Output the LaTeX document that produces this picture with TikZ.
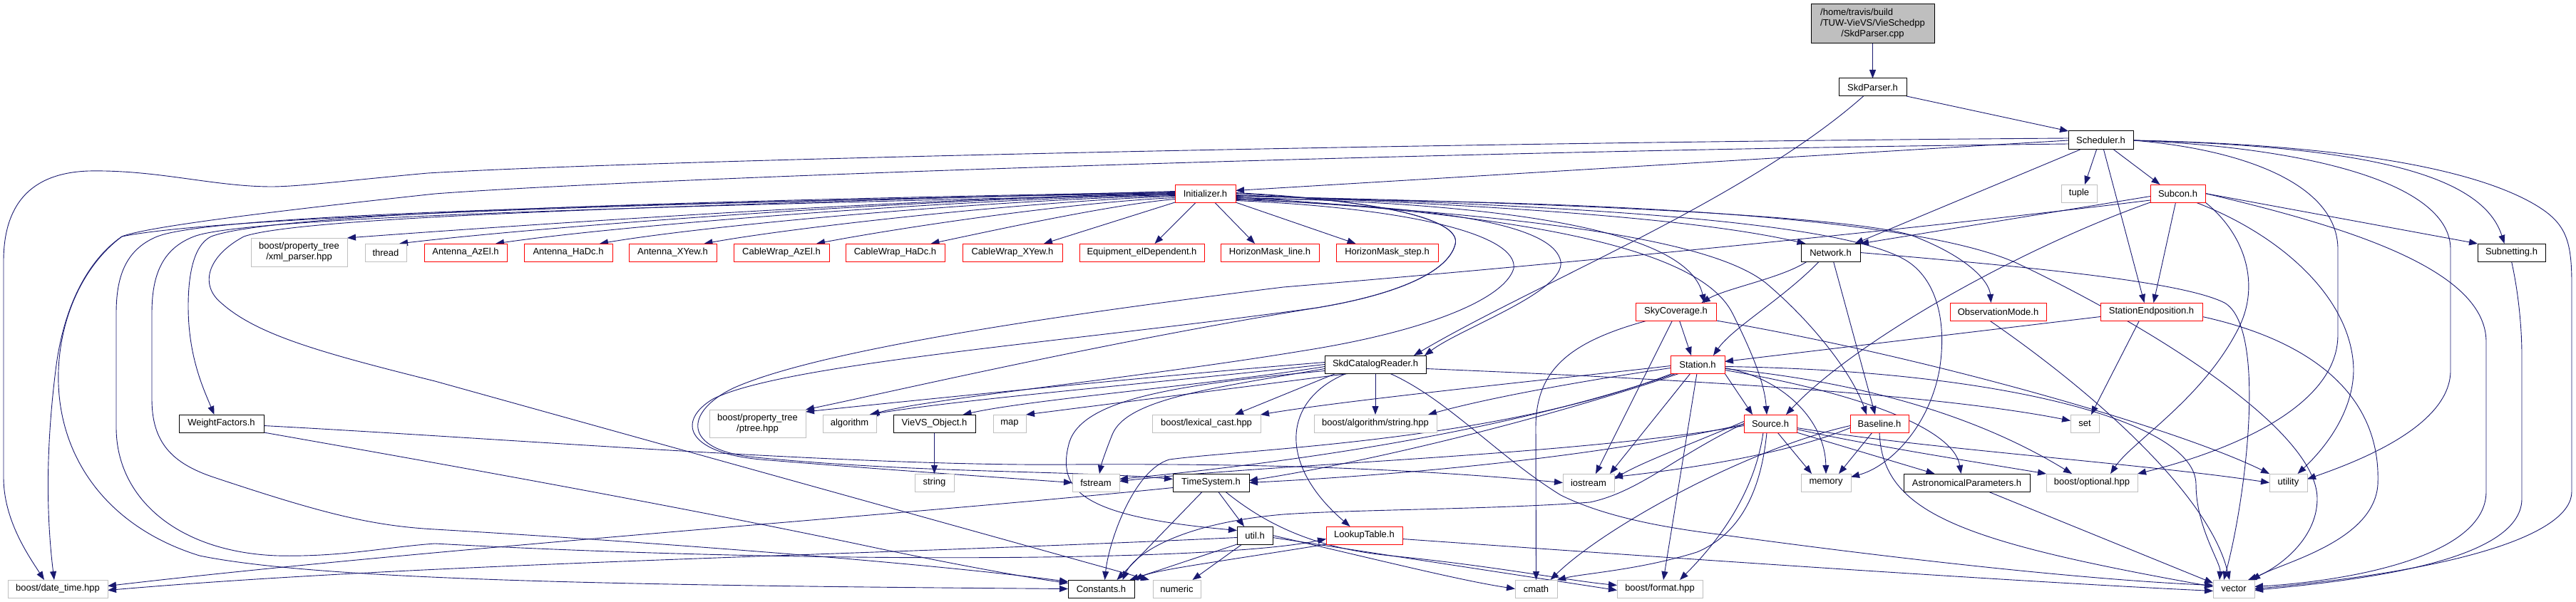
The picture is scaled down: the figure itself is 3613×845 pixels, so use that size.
\documentclass[tikz,border=0pt]{standalone}
\usepackage{fontspec}
\setmainfont{Liberation Sans}
\usetikzlibrary{arrows.meta}
\definecolor{edgec}{HTML}{191970}
\definecolor{redb}{HTML}{FF0000}
\definecolor{grayb}{HTML}{BFBFBF}
\pgfdeclarelayer{edges}
\pgfsetlayers{edges,main}
\begin{document}
\begin{tikzpicture}[x=1pt,y=-1pt,
  box/.style={draw, rectangle, line width=1pt, inner sep=0pt, outer sep=0pt, minimum height=25pt, font=\fontsize{13}{15}\selectfont, text=black, fill=white},
  rbox/.style={box, draw=redb},
  bbox/.style={box, draw=black},
  gbox/.style={box, draw=grayb},
  e/.style={draw=edgec, line width=0.9pt, -{Triangle[length=12pt,width=9pt]}},
]
\useasboundingbox (0,0) rectangle (3613,845);
% ---------------- nodes ----------------
\node[bbox, fill=grayb, minimum width=173, minimum height=55] (root) at (2626.5,33.5) {\begin{tabular}{@{}l@{}}/home/travis/build\\/TUW-VieVS/VieSchedpp\\\multicolumn{1}{@{}c@{}}{/SkdParser.cpp}\end{tabular}};
\node[bbox, minimum width=95] (skdh) at (2626.5,122.5) {SkdParser.h};
\node[bbox, minimum width=91, minimum height=26] (sched) at (2946.5,197) {Scheduler.h};
\node[rbox, minimum width=85] (ini) at (1690.5,271.5) {Initializer.h};
\node[gbox, minimum width=50] (tuple) at (2916,271.5) {tuple};
\node[rbox, minimum width=77] (subcon) at (3054.5,271.5) {Subcon.h};
\node[gbox, minimum width=135, minimum height=40, align=center] (xml) at (419.5,354) {boost/property\_tree\\/xml\_parser.hpp};
\node[gbox, minimum width=58] (thread) at (541,354.5) {thread};
\node[rbox, minimum width=116] (aaz) at (653,354.5) {Antenna\_AzEl.h};
\node[rbox, minimum width=124] (ahd) at (797,354.5) {Antenna\_HaDc.h};
\node[rbox, minimum width=123] (axy) at (943.5,354.5) {Antenna\_XYew.h};
\node[rbox, minimum width=134] (caz) at (1096,354.5) {CableWrap\_AzEl.h};
\node[rbox, minimum width=139] (chd) at (1255.5,354.5) {CableWrap\_HaDc.h};
\node[rbox, minimum width=140] (cxy) at (1420,354.5) {CableWrap\_XYew.h};
\node[rbox, minimum width=175] (equip) at (1601.5,354.5) {Equipment\_elDependent.h};
\node[rbox, minimum width=138] (hml) at (1781,354.5) {HorizonMask\_line.h};
\node[rbox, minimum width=143] (hms) at (1945.5,354.5) {HorizonMask\_step.h};
\node[bbox, minimum width=83] (net) at (2567.5,354.5) {Network.h};
\node[bbox, minimum width=95] (subnet) at (3522.5,354.5) {Subnetting.h};
\node[rbox, minimum width=113] (sky) at (2350.5,437.5) {SkyCoverage.h};
\node[rbox, minimum width=135] (obs) at (2802.5,437.5) {ObservationMode.h};
\node[rbox, minimum width=143] (sep) at (3017.5,437.5) {StationEndposition.h};
\node[bbox, minimum width=142] (scr) at (1929,511.5) {SkdCatalogReader.h};
\node[rbox, minimum width=76] (station) at (2381,511.5) {Station.h};
\node[bbox, minimum width=119] (wf) at (310.5,594.5) {WeightFactors.h};
\node[gbox, minimum width=135, minimum height=39, align=center] (ptree) at (1062.5,594.5) {boost/property\_tree\\/ptree.hpp};
\node[gbox, minimum width=75] (algo) at (1191.5,594.5) {algorithm};
\node[bbox, minimum width=115] (vieobj) at (1310.5,594.5) {VieVS\_Object.h};
\node[gbox, minimum width=46] (map) at (1416,594.5) {map};
\node[gbox, minimum width=152] (lex) at (1692,594.5) {boost/lexical\_cast.hpp};
\node[gbox, minimum width=172] (bstr) at (1929,594.5) {boost/algorithm/string.hpp};
\node[rbox, minimum width=74] (source) at (2483,594.5) {Source.h};
\node[rbox, minimum width=82] (baseline) at (2636,594.5) {Baseline.h};
\node[gbox, minimum width=40] (set) at (2924,594.5) {set};
\node[gbox, minimum width=55] (string) at (1310.5,677.5) {string};
\node[gbox, minimum width=66] (fstream) at (1537,677.5) {fstream};
\node[bbox, minimum width=107] (timesys) at (1698.5,677.5) {TimeSystem.h};
\node[gbox, minimum width=72] (iostream) at (2228,677.5) {iostream};
\node[gbox, minimum width=70] (memory) at (2561,677.5) {memory};
\node[bbox, minimum width=177] (astro) at (2758.5,677.5) {AstronomicalParameters.h};
\node[gbox, minimum width=128] (optional) at (2934,677.5) {boost/optional.hpp};
\node[gbox, minimum width=53] (utility) at (3209.5,677.5) {utility};
\node[bbox, minimum width=50] (util) at (1760,751.5) {util.h};
\node[rbox, minimum width=107] (lookup) at (1913.5,751.5) {LookupTable.h};
\node[gbox, minimum width=140] (datetime) at (81,826.5) {boost/date\_time.hpp};
\node[bbox, minimum width=93] (constants) at (1544.5,826.5) {Constants.h};
\node[gbox, minimum width=67] (numeric) at (1650.5,826.5) {numeric};
\node[gbox, minimum width=59] (cmath) at (2154.5,826.5) {cmath};
\node[gbox, minimum width=120] (format) at (2328,826.5) {boost/format.hpp};
\node[gbox, minimum width=58] (vector) at (3133,826.5) {vector};
% ---------------- edges ----------------
\begin{pgfonlayer}{edges}
\draw[e] (root) -- (skdh);
\draw[e] (skdh.south east) -- (sched.north west);
\draw[e] ([xshift=-13]skdh.south) .. controls (2450,280) and (2150,400) .. ([xshift=-17]scr.north east);
% Scheduler.h
\draw[e] (sched.west) -- ([yshift=4]ini.east);
\draw[e] ([xshift=-6]sched.south) -- ([xshift=8]tuple.north);
\draw[e] ([xshift=18]sched.south) -- ([xshift=-25]subcon.north);
\draw[e] ([xshift=-29]sched.south) -- ([xshift=34]net.north);
\draw[e] (sched.east) .. controls (3300,205) and (3480,240) .. ([xshift=-10]subnet.north);
\draw[e] ([xshift=4]sched.south) -- ([xshift=-10]sep.north);
\draw[e] ([yshift=3]sched.west) .. controls (2000,200) and (900,225) .. (600,243) .. controls (500,252) and (420,262) .. (381,262) .. controls (300,262) and (220,238) .. (124,240) .. controls (40,243) and (5,290) .. (5,367) -- (5,670) .. controls (5,730) and (40,780) .. ([xshift=-19]datetime.north);
\draw[e] (sched.east) .. controls (3300,203) and (3480,240) .. (3560,290) .. controls (3600,315) and (3607,340) .. (3607,400) -- (3607,690) .. controls (3607,750) and (3450,800) .. (vector.east);
\draw[e] (sched.east) .. controls (3250,208) and (3437,260) .. (3437,350) -- (3437,520) .. controls (3437,600) and (3300,650) .. ([yshift=5]utility.east);
\draw[e] (sched.east) .. controls (3150,210) and (3279,260) .. (3279,350) -- (3279,470) .. controls (3279,580) and (3100,640) .. (optional.north east);
\draw[e] ([yshift=-5]sched.west) .. controls (2000,212) and (900,250) .. (610,272) .. controls (350,300) and (200,320) .. (171,332) .. controls (120,370) and (85,440) .. (82,520) .. controls (78,640) and (150,740) .. (280,780) .. controls (450,815) and (900,822) .. (constants.west);
% Initializer.h
\draw[e] (ini.west) .. controls (1300,277) and (700,318) .. (xml.north east);
\draw[e] ([yshift=-1]ini.west) .. controls (1300,278) and (760,318) .. ([xshift=19]thread.north);
\draw[e] ([yshift=-2]ini.west) .. controls (1350,279) and (880,315) .. ([xshift=42]aaz.north);
\draw[e] ([yshift=-3]ini.west) .. controls (1400,280) and (1000,315) .. ([xshift=44]ahd.north);
\draw[e] ([yshift=-4]ini.west) .. controls (1450,282) and (1120,318) .. ([xshift=44]axy.north);
\draw[e] ([yshift=-6]ini.west) .. controls (1500,284) and (1260,320) .. ([xshift=49]caz.north);
\draw[e] ([yshift=-8]ini.west) .. controls (1560,287) and (1400,322) .. ([xshift=50]chd.north);
\draw[e] (ini.south west) -- ([xshift=44]cxy.north);
\draw[e] ([xshift=-13]ini.south) -- ([xshift=18]equip.north);
\draw[e] ([xshift=13]ini.south) -- ([xshift=-21]hml.north);
\draw[e] (ini.south east) -- ([xshift=-44]hms.north);
\draw[e] ([yshift=-2]ini.east) .. controls (2000,285) and (2350,300) .. ([xshift=-35]net.north);
\draw[e] ([yshift=-4]ini.east) .. controls (2100,282) and (2580,300) .. (2680,330) .. controls (2760,360) and (2790,395) .. ([xshift=-10]obs.north);
\draw[e] ([yshift=-6]ini.east) .. controls (2150,285) and (2370,330) .. ([xshift=40]sky.north);
\draw[e] ([yshift=-3]ini.east) .. controls (2200,288) and (2600,310) .. (2680,370) .. controls (2720,400) and (2730,460) .. (2720,520) .. controls (2705,600) and (2650,655) .. ([yshift=8]memory.east);
\draw[e] ([yshift=-8]ini.east) .. controls (2300,280) and (2700,310) .. (2830,370) .. controls (3000,450) and (3250,600) .. (3250,700) .. controls (3250,760) and (3190,800) .. ([xshift=20]vector.north);
\draw[e] ([yshift=-5]ini.east) .. controls (2100,300) and (2380,340) .. (2430,440) .. controls (2460,500) and (2475,540) .. ([xshift=-5]source.north);
\draw[e] ([yshift=-7]ini.east) .. controls (2100,300) and (2400,330) .. (2480,400) .. controls (2550,460) and (2600,530) .. ([xshift=-18]baseline.north);
\draw[e] ([yshift=-9]ini.east) .. controls (2050,290) and (2180,320) .. (2189,367) .. controls (2195,410) and (2050,460) .. ([xshift=-2]scr.north east);
\draw[e] ([yshift=-10]ini.east) .. controls (1980,292) and (2130,330) .. (2123,377) .. controls (2110,420) and (2000,465) .. (1830,492) .. controls (1600,530) and (1300,560) .. ([xshift=30]algo.north);
\draw[e] ([yshift=2]ini.west) .. controls (900,283) and (380,300) .. (296,332) .. controls (270,345) and (264,390) .. (264,430) .. controls (264,500) and (285,545) .. ([xshift=-10]wf.north);
\draw[e] ([yshift=0]ini.east) .. controls (1950,282) and (2050,310) .. (2041,343) .. controls (2030,385) and (1950,415) .. (1847,432) .. controls (1550,480) and (1250,550) .. (ptree.north east);
\draw[e] ([yshift=1]ini.east) .. controls (1950,282) and (2050,310) .. (2041,343) .. controls (2030,385) and (1950,415) .. (1847,432) .. controls (1500,480) and (1100,510) .. (1000,560) .. controls (950,590) and (960,635) .. (1067,645) .. controls (1250,660) and (1400,670) .. (fstream.west);
\draw[e] ([yshift=1]ini.west) .. controls (900,285) and (300,305) .. (171,332) .. controls (130,360) and (90,420) .. (78,520) .. controls (68,600) and (62,700) .. ([xshift=-5]datetime.north);
\draw[e] ([yshift=1]ini.west) .. controls (900,286) and (290,300) .. (218,333) .. controls (175,352) and (163,390) .. (163,440) -- (163,600) .. controls (163,700) and (250,775) .. (389,780) .. controls (480,782) and (540,768) .. (610,763) .. controls (1100,790) and (1700,790) .. ([yshift=-5]lookup.west);
\draw[e] ([yshift=-1]ini.west) .. controls (900,290) and (340,305) .. (272,332) .. controls (225,350) and (213,390) .. (213,440) -- (213,560) .. controls (213,620) and (240,650) .. (300,670) .. controls (450,720) and (520,738) .. (610,743) .. controls (900,760) and (1300,790) .. ([yshift=10]constants.west);
\draw[e] ([yshift=3]ini.west) .. controls (900,290) and (420,305) .. (342,332) .. controls (290,360) and (280,400) .. (310,425) .. controls (360,470) and (450,495) .. (610,535) -- ([xshift=-5]numeric.north west);
% Subcon.h
\draw[e] ([yshift=-4]subcon.west) -- (net.north east);
\draw[e] (subcon.east) -- (subnet.north west);
\draw[e] ([xshift=-3]subcon.south) -- ([xshift=3]sep.north);
\draw[e] (subcon.south west) .. controls (2830,350) and (2600,480) .. ([xshift=22]source.north);
\draw[e] (subcon.east) .. controls (3300,320) and (3487,380) .. (3487,480) -- (3487,690) .. controls (3487,780) and (3300,815) .. ([yshift=3]vector.east);
\draw[e] ([xshift=25]subcon.south) .. controls (3200,330) and (3300,420) .. (3301,520) .. controls (3300,580) and (3260,630) .. ([xshift=13]utility.north);
\draw[e] (subcon.south east) .. controls (3150,330) and (3170,400) .. (3140,460) .. controls (3090,560) and (2990,620) .. ([xshift=26]optional.north);
\draw[e] ([yshift=3]subcon.south west) .. controls (2700,320) and (2200,370) .. (1800,403) .. controls (1500,440) and (1150,490) .. (1028,545) .. controls (960,578) and (955,632) .. (1060,642) .. controls (1300,665) and (1500,660) .. ([yshift=5]timesys.west);
% Subnetting, StationEndposition, ObservationMode
\draw[e] (subnet.south) .. controls (3530,400) and (3537,450) .. (3537,500) -- (3537,700) .. controls (3537,790) and (3300,815) .. ([yshift=-2]vector.east);
\draw[e] ([yshift=-7]sep.west) -- ([yshift=4]station.east);
\draw[e] ([xshift=-17]sep.south) -- ([xshift=9]set.north);
\draw[e] ([yshift=-7]sep.east) .. controls (3250,480) and (3340,560) .. (3335,680) .. controls (3330,760) and (3200,790) .. ([xshift=25]vector.north);
\draw[e] ([xshift=-12]obs.south) .. controls (2950,560) and (3100,700) .. ([xshift=-6]vector.north);
% SkyCoverage.h
\draw[e] ([xshift=5]sky.south) -- ([xshift=-9]station.north);
\draw[e] ([xshift=-5]sky.south) -- ([xshift=10]iostream.north);
\draw[e] ([xshift=-40]sky.south) .. controls (2200,480) and (2154,520) .. (2154,600) -- (cmath.north);
\draw[e] (sky.south east) .. controls (2700,500) and (3050,600) .. (utility.north west);
% Network.h
\draw[e] ([xshift=-33]net.south) .. controls (2500,390) and (2420,405) .. ([xshift=36]sky.north);
\draw[e] ([xshift=-16]net.south) .. controls (2500,420) and (2430,460) .. ([xshift=-16]station.north east);
\draw[e] ([xshift=4]net.south) -- ([xshift=-6]baseline.north);
\draw[e] (net.east) .. controls (2850,375) and (3060,395) .. (3120,425) .. controls (3180,460) and (3150,700) .. ([xshift=-14]vector.north);
% SkdCatalogReader.h
\draw[e] ([yshift=3]scr.west) .. controls (1650,525) and (1300,560) .. ([yshift=-3]ptree.north east);
\draw[e] (scr.west) .. controls (1650,535) and (1350,560) .. ([xshift=28]algo.north);
\draw[e] ([yshift=-3]scr.west) .. controls (1700,540) and (1450,560) .. ([xshift=40]vieobj.north);
\draw[e] ([xshift=-35]scr.south) -- (map.north east);
\draw[e] ([xshift=-55]scr.south) -- ([xshift=40]lex.north);
\draw[e] (scr.south) -- (bstr.north);
\draw[e] ([yshift=-6]scr.west) .. controls (1700,545) and (1580,560) .. (1560,610) .. controls (1552,630) and (1545,650) .. ([xshift=5]fstream.north);
\draw[e] ([xshift=-40]scr.south) .. controls (1800,560) and (1790,650) .. ([xshift=-20]lookup.north);
\draw[e] ([yshift=-6]scr.east) .. controls (2300,530) and (2700,550) .. ([yshift=4]set.west);
\draw[e] ([xshift=20]scr.south) .. controls (2030,560) and (2100,640) .. (2189,695) .. controls (2250,725) and (2330,740) .. (2410,750) .. controls (2700,790) and (2950,815) .. ([yshift=5]vector.west);
\draw[e] ([yshift=-9]scr.west) .. controls (1650,540) and (1520,560) .. (1500,620) .. controls (1480,690) and (1520,725) .. ([yshift=7]util.west);
% Station.h
\draw[e] (station.south east) -- ([xshift=-25]source.north);
\draw[e] ([yshift=-2]station.west) .. controls (2200,530) and (1900,560) .. (lex.north east);
\draw[e] ([yshift=-5]station.west) .. controls (2250,530) and (2100,555) .. ([xshift=-12]bstr.north east);
\draw[e] ([xshift=-30]station.south) .. controls (2100,610) and (1800,650) .. ([yshift=5]fstream.east);
\draw[e] ([xshift=-25]station.south) .. controls (2100,610) and (1850,660) .. ([yshift=3]timesys.east);
\draw[e] ([xshift=-10]station.south) -- ([xshift=30]iostream.north);
\draw[e] ([yshift=-5]station.east) .. controls (2500,530) and (2560,590) .. (memory.north);
\draw[e] ([yshift=-8]station.east) .. controls (2600,550) and (2740,600) .. ([xshift=-8]astro.north);
\draw[e] ([yshift=-6]station.east) .. controls (2650,540) and (2800,600) .. ([xshift=-28]optional.north);
\draw[e] ([yshift=-3]station.east) .. controls (2800,520) and (3080,590) .. (3080,680) .. controls (3080,740) and (3115,790) .. ([xshift=-20]vector.north);
\draw[e] ([xshift=-1]station.south) -- ([xshift=5]format.north);
\draw[e] ([xshift=-35]station.south) .. controls (2100,620) and (1750,630) .. (1640,645) .. controls (1590,660) and (1555,760) .. ([xshift=5]constants.north);
% Source.h
\draw[e] ([xshift=10]source.south) -- ([xshift=-20]memory.north);
\draw[e] (source.south east) -- ([xshift=-45]astro.north);
\draw[e] ([yshift=-8]source.east) .. controls (2620,625) and (2780,650) .. (optional.north west);
\draw[e] ([yshift=-6]source.east) .. controls (2700,630) and (3000,650) .. (utility.west);
\draw[e] ([xshift=-5]source.south) .. controls (2470,690) and (2440,750) .. (2380,775) .. controls (2300,800) and (2220,805) .. (cmath.north east);
\draw[e] ([xshift=-10]source.south) .. controls (2460,700) and (2400,770) .. ([xshift=28]format.north);
\draw[e] (source.west) .. controls (2350,640) and (2300,690) .. (2230,705) .. controls (2100,715) and (1900,715) .. (1800,722) .. controls (1650,735) and (1590,780) .. ([xshift=30]constants.north);
\draw[e] ([yshift=3]source.west) .. controls (2380,620) and (2300,650) .. ([yshift=5]iostream.east);
\draw[e] ([yshift=-3]source.west) .. controls (2200,640) and (1800,650) .. ([yshift=2]fstream.east);
\draw[e] ([yshift=-1]source.west) .. controls (2200,650) and (1900,670) .. (timesys.east);
% Baseline.h
\draw[e] ([xshift=-10]baseline.south) -- ([xshift=18]memory.north);
\draw[e] (baseline.south) .. controls (2640,720) and (2750,760) .. ([yshift=3]vector.west);
\draw[e] ([yshift=-3]baseline.west) .. controls (2450,630) and (2250,740) .. ([xshift=20]cmath.north);
\draw[e] ([yshift=-6]baseline.west) .. controls (2500,640) and (2350,660) .. ([yshift=8]iostream.east);
% AstronomicalParameters, TimeSystem, util, LookupTable, VieVS_Object, WeightFactors
\draw[e] ([xshift=30]astro.south) -- ([yshift=8]vector.west);
\draw[e] ([yshift=-7]timesys.west) .. controls (1300,720) and (600,770) .. ([yshift=4]datetime.east);
\draw[e] ([xshift=-12]timesys.south) -- ([xshift=22]constants.north);
\draw[e] ([xshift=10]timesys.south) -- ([xshift=-15]util.north);
\draw[e] ([xshift=20]timesys.south) .. controls (1780,740) and (1850,770) .. (1950,780) .. controls (2100,795) and (2200,815) .. ([yshift=5]format.west);
\draw[e] ([yshift=-3]util.west) .. controls (1200,780) and (600,790) .. ([yshift=-2]datetime.east);
\draw[e] (util.south west) -- ([xshift=40]constants.north);
\draw[e] ([xshift=-18]util.south) -- ([xshift=22]numeric.north);
\draw[e] (util.east) .. controls (1950,790) and (2050,815) .. (cmath.west);
\draw[e] ([yshift=-3]util.east) -- ([yshift=-2]format.west);
\draw[e] (lookup.south west) .. controls (1700,790) and (1620,800) .. (constants.north east);
\draw[e] ([yshift=-5]lookup.east) .. controls (2300,780) and (2800,815) .. ([yshift=-3]vector.west);
\draw[e] (vieobj.south) -- (string.north);
\draw[e] ([yshift=-3]wf.east) .. controls (700,615) and (1200,655) .. (1500,652) .. controls (1800,650) and (2000,660) .. (iostream.west);
\draw[e] (wf.south east) .. controls (500,630) and (900,700) .. (1200,763) .. controls (1350,795) and (1450,812) .. ([yshift=8]constants.west);
\end{pgfonlayer}
\end{tikzpicture}
\end{document}
